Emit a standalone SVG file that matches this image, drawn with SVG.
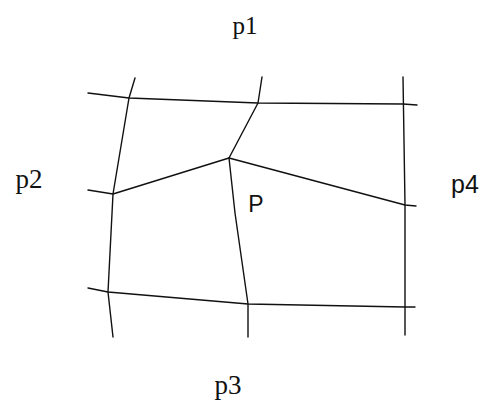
<svg xmlns="http://www.w3.org/2000/svg" width="486" height="409" viewBox="0 0 486 409">
<style>
.ln{fill:none;stroke:#111;stroke-width:1.4;stroke-linejoin:round;stroke-linecap:round}
.serif{font-family:"Liberation Serif","Times New Roman",serif;fill:#111}
.sans{font-family:"Liberation Sans",Arial,sans-serif;fill:#111}
</style>
<rect width="486" height="409" fill="#fff"/>
<g id="connectors">
<polyline class="ln" points="88,93 129,98 258,103 403,104 417,105"/>
<polyline class="ln" points="135,78 129,98 113,194 108,292 113,337"/>
<polyline class="ln" points="262,77 258,103 229,158"/>
<polyline class="ln" points="229,158 235,213 246,290 248,304 248,337"/>
<polyline class="ln" points="88,190 113,194 229,158 405,205 416,206"/>
<polyline class="ln" points="88,288 108,292 248,304 405,307 415,307"/>
<polyline class="ln" points="403,77 405,205 405,335"/>
</g>
<g id="p1"><text class="serif" x="245" y="34" text-anchor="middle" font-size="25">p1</text></g>
<g id="p2"><text class="serif" x="29" y="188" text-anchor="middle" font-size="27">p2</text></g>
<g id="p3"><text class="serif" x="228" y="394" text-anchor="middle" font-size="27">p3</text></g>
<g id="p4"><text class="sans" x="465" y="193" text-anchor="middle" font-size="25">p4</text></g>
<g id="P"><text class="sans" x="256" y="212" text-anchor="middle" font-size="23">P</text></g>
</svg>
